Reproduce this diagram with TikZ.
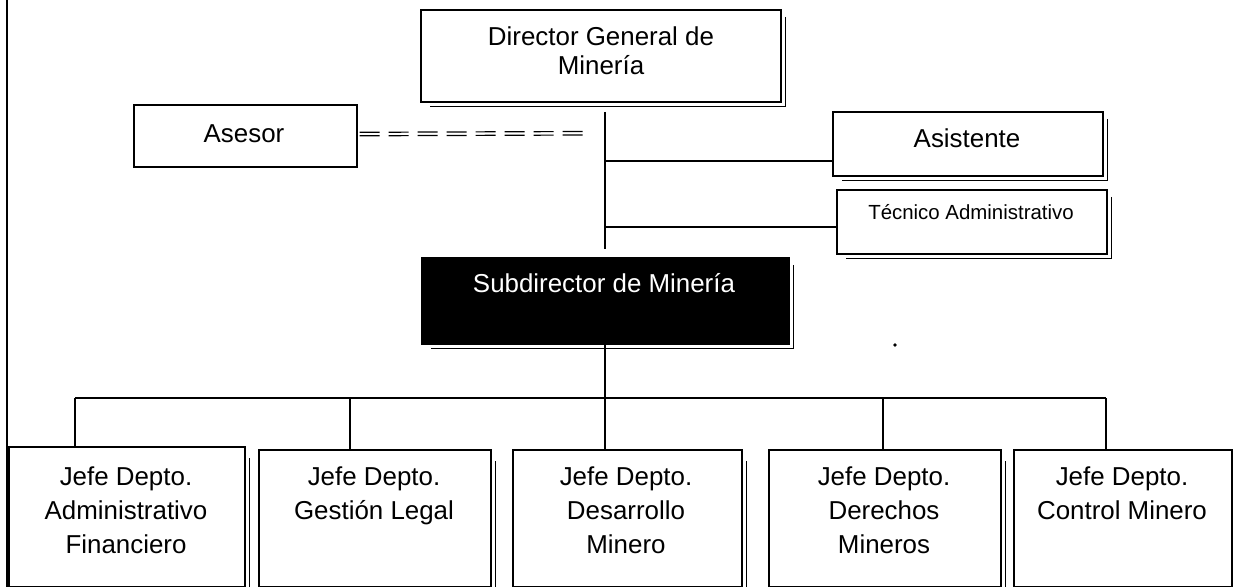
\documentclass[tikz,border=0pt]{standalone}
\usepackage{fontspec}
\setmainfont{Liberation Sans}
\begin{document}
\begin{tikzpicture}[x=1bp,y=-1bp,
  box/.style={draw,line width=1.6bp,inner sep=0,rectangle,anchor=north west},
  blackbox/.style={box,fill=black},
  conn/.style={line width=1.5bp},
  shadowline/.style={line width=1.2bp},
  dashline/.style={line width=1.2bp,dash pattern=on 20bp off 9bp},
  txt/.style={font=\fontsize{26}{34}\selectfont,align=center,inner sep=0},
  dirtxt/.style={font=\fontsize{26}{29}\selectfont,align=center,inner sep=0},
  smalltxt/.style={font=\fontsize{20.5}{24}\selectfont,align=center,inner sep=0},
  ]
\useasboundingbox (0,0) rectangle (1233,587);
% left border
\coordinate (bordT) at (7,0);
\coordinate (bordB) at (7,587);
\draw[conn] (bordT) -- (bordB);
% boxes
\node[box,minimum width=360bp,minimum height=92bp] (dir) at (420,9) {};
\node[box,minimum width=223bp,minimum height=62bp] (ase) at (133,104) {};
\node[box,minimum width=270bp,minimum height=64bp] (asis) at (832,111) {};
\node[box,minimum width=270bp,minimum height=64bp] (tec) at (836,189) {};
\node[blackbox,minimum width=367bp,minimum height=86bp] (sub) at (421,257) {};
\node[box,minimum width=236bp,minimum height=140bp] (b1) at (8,446) {};
\node[box,minimum width=232bp,minimum height=137bp] (b2) at (258,449) {};
\node[box,minimum width=229bp,minimum height=137bp] (b3) at (512,449) {};
\node[box,minimum width=232bp,minimum height=137bp] (b4) at (768,449) {};
\node[box,minimum width=218bp,minimum height=137bp] (b5) at (1013,449) {};
% shadows
\foreach \n in {dir,asis,tec,sub}{
  \draw[shadowline] ([xshift=4bp,yshift=-8bp]\n.north east) -- ([xshift=4bp,yshift=-4bp]\n.south east) -- ([xshift=10bp,yshift=-4bp]\n.south west);
}
\foreach \n in {b1,b2,b3,b4}{
  \draw[shadowline] ([xshift=4bp,yshift=-12bp]\n.north east) -- ([xshift=4bp]\n.south east);
}
% texts
\node[dirtxt] (dirT) at (601,51) {Director General de\\Minería};
\node[txt] (aseT) at (244,134) {Asesor};
\node[txt] (asisT) at (967,138) {Asistente};
\node[smalltxt] (tecT) at (971,212) {Técnico Administrativo};
\node[txt,text=white] (subT) at (604,283) {Subdirector de Minería};
\node[txt,anchor=north] (b1T) at (126,467) {Jefe Depto.\\Administrativo\\Financiero};
\node[txt,anchor=north] (b2T) at (374,467) {Jefe Depto.\\Gestión Legal};
\node[txt,anchor=north] (b3T) at (626,467) {Jefe Depto.\\Desarrollo\\Minero};
\node[txt,anchor=north] (b4T) at (884,467) {Jefe Depto.\\Derechos\\Mineros};
\node[txt,anchor=north] (b5T) at (1122,467) {Jefe Depto.\\Control Minero};
% dashed advisory link
\coordinate (dashA) at (583,131.5);
\coordinate (dashB) at (583,135);
\draw[dashline] ([xshift=2bp,yshift=3.5bp]ase.east) -- (dashA);
\draw[dashline] ([xshift=2bp]ase.east) -- (dashB);
% staff line
\coordinate (vt) at (605,112);
\coordinate (vb) at (605,249);
\draw[conn] (vt) -- (vb);
\coordinate (ja) at (605,161);
\coordinate (jt) at (605,227);
\draw[conn] (ja) -- (ja -| asis.west);
\draw[conn] (jt) -- (jt -| tec.west);
% departments
\coordinate (busL) at (75,398);
\coordinate (busR) at (1106,398);
\coordinate (d2) at (350,398);
\coordinate (d4) at (883,398);
\coordinate (d3) at (605,398);
\draw[conn] (busL) -- (busR);
\draw[line width=1.9bp] (sub.south -| d3) -- (d3 |- b3.north);
\draw[conn] (busL) -- (busL |- b1.north);
\draw[line width=1.1bp] (d2) -- (d2 |- b2.north);
\draw[line width=1.1bp] (d4) -- (d4 |- b4.north);
\draw[line width=1.1bp] (busR) -- (busR |- b5.north);
% stray dot
\fill (895,345) circle (1.8bp);
\end{tikzpicture}
\end{document}
